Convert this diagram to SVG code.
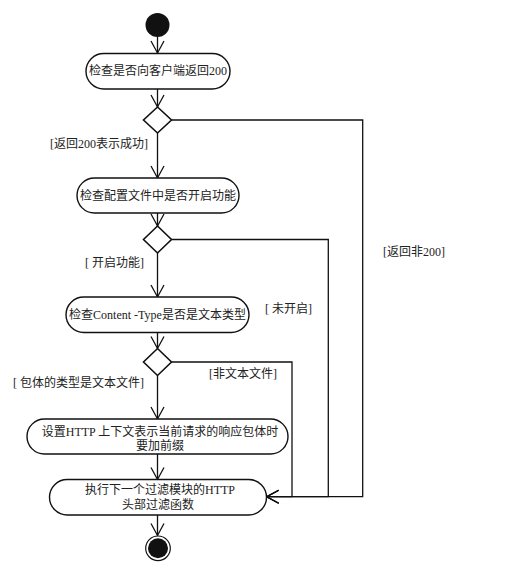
<svg xmlns="http://www.w3.org/2000/svg" width="515" height="569" viewBox="0 0 515 569">
<style>
.n{fill:#fff;stroke:#111;stroke-width:1.4}
.d{fill:#fff;stroke:#111;stroke-width:1.6}
.c{fill:none;stroke:#111;stroke-width:1.3}
text{font-family:"Liberation Serif","Noto Sans CJK SC",serif;font-size:12px;fill:#222}
.m{text-anchor:middle}
</style>
<defs>
<marker id="a" markerUnits="userSpaceOnUse" markerWidth="16" markerHeight="16" refX="13" refY="7" orient="auto">
<path d="M1,0.5 L13,7 L1,13.5" fill="none" stroke="#111" stroke-width="1.3"/>
</marker>
</defs>
<rect width="515" height="569" fill="#fff"/>
<g id="connectors">
<path class="c" d="M157.5,37 V53" marker-end="url(#a)"/>
<path class="c" d="M157.5,89 V107" marker-end="url(#a)"/>
<path class="c" d="M157.5,133 V178" marker-end="url(#a)"/>
<path class="c" d="M171.5,120 H362.7 V496.7 H266.7" marker-end="url(#a)"/>
<path class="c" d="M157.5,213 V226" marker-end="url(#a)"/>
<path class="c" d="M171.5,239.5 H328.3 V496.7 H266.7" marker-end="url(#a)"/>
<path class="c" d="M157.5,253 V297" marker-end="url(#a)"/>
<path class="c" d="M157.5,332.5 V348.5" marker-end="url(#a)"/>
<path class="c" d="M171.5,362 H292 V496.7 H266.7" marker-end="url(#a)"/>
<path class="c" d="M157.5,375.5 V419" marker-end="url(#a)"/>
<path class="c" d="M157.5,454 V479.5" marker-end="url(#a)"/>
<path class="c" d="M157.5,515 V535.5" marker-end="url(#a)"/>
</g>
<g id="start"><circle cx="157.5" cy="25" r="12" fill="#111"/></g>
<g id="node1"><rect class="n" x="86" y="53.5" width="144" height="35.5" rx="17.75"/><text class="m" x="158" y="75">检查是否向客户端返回200</text></g>
<g id="decision1"><polygon class="d" points="157.5,107 171.5,120 157.5,133 143.5,120"/></g>
<g id="node2"><rect class="n" x="77" y="178" width="162" height="35" rx="17.5"/><text class="m" x="158" y="199.5">检查配置文件中是否开启功能</text></g>
<g id="decision2"><polygon class="d" points="157.5,226 171.5,239.5 157.5,253 143.5,239.5"/></g>
<g id="node3"><rect class="n" x="66" y="297" width="183" height="35.5" rx="17.75"/><text class="m" x="157.5" y="318.5">检查Content -Type是否是文本类型</text></g>
<g id="decision3"><polygon class="d" points="157.5,348.5 171.5,362 157.5,375.5 143.5,362"/></g>
<g id="node4"><rect class="n" x="27" y="419" width="261" height="35" rx="17.5"/><text class="m" x="160" y="436">设置HTTP 上下文表示当前请求的响应包体时</text><text class="m" x="160" y="450">要加前缀</text></g>
<g id="node5"><rect class="n" x="49.5" y="479.5" width="217" height="35.5" rx="17.75"/><text class="m" x="160" y="494">执行下一个过滤模块的HTTP</text><text class="m" x="158" y="509">头部过滤函数</text></g>
<g id="end"><circle cx="158" cy="548.3" r="12.3" fill="#fff" stroke="#111" stroke-width="1.2"/><circle cx="158" cy="548.3" r="10" fill="#111"/></g>
<g id="labels">
<text x="50" y="148">[返回200表示成功]</text>
<text x="85" y="267">[ 开启功能]</text>
<text x="265" y="313">[ 未开启]</text>
<text x="383" y="256">[返回非200]</text>
<text x="209" y="378">[非文本文件]</text>
<text x="13" y="387">[ 包体的类型是文本文件]</text>
</g>
</svg>
